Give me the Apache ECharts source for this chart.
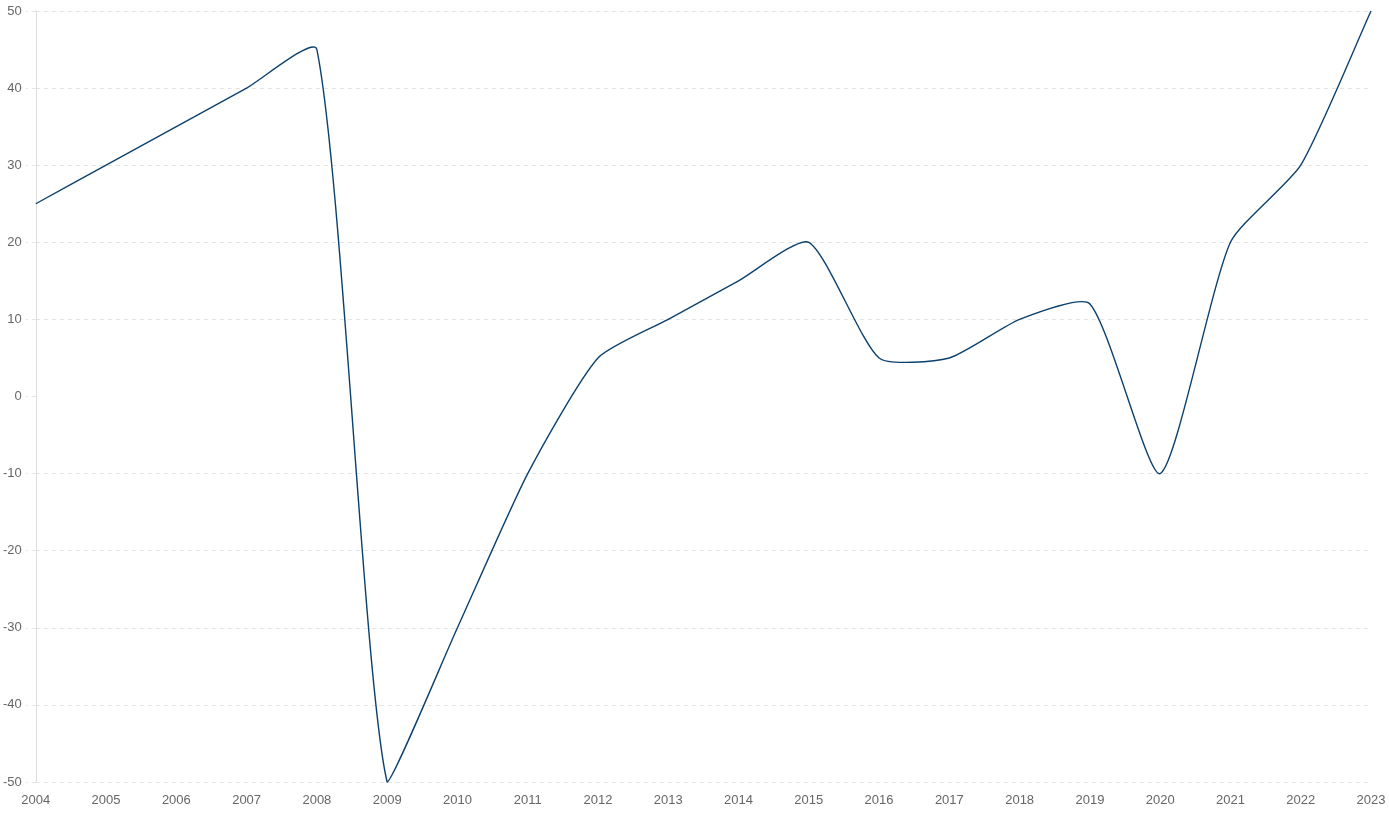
<!DOCTYPE html>
<html><head><meta charset="utf-8">
<script src="https://cdn.jsdelivr.net/npm/echarts@6/dist/echarts.min.js"></script>
<style>html,body{margin:0;padding:0;background:#fff}#c{width:1389px;height:814px}</style>
</head><body><div id="c"></div>
<script>
const years = ['2004','2005','2006','2007','2008','2009','2010','2011','2012','2013','2014','2015','2016','2017','2018','2019','2020','2021','2022','2023'];
const values = [25,30,35,40,45,-50,-30,-10,5,10,15,20,5,5,10,12,-10,20,30,50];
const yTicks = {min:-50, max:50, interval:10};

const TENSION = 0.2;
function renderLine(params, api) {
  if (params.dataIndex !== 0) return null;
  const pts = values.map((v, i) => { const c = api.coord([i, v]); return {x:c[0], y:c[1]}; });
  const area = params.coordSys;
  const minX = area.x, maxX = area.x + area.width, minY = area.y, maxY = area.y + area.height;
  const cap = (v, a, b) => Math.max(a, Math.min(b, v));
  const ctrl = pts.map((cur, i) => {
    const prev = i > 0 ? pts[i-1] : cur;
    const next = i < pts.length - 1 ? pts[i+1] : cur;
    const d01 = Math.hypot(cur.x - prev.x, cur.y - prev.y);
    const d12 = Math.hypot(next.x - cur.x, next.y - cur.y);
    let s01 = d01 / (d01 + d12), s12 = d12 / (d01 + d12);
    if (isNaN(s01)) s01 = 0; if (isNaN(s12)) s12 = 0;
    const fa = TENSION * s01, fb = TENSION * s12;
    return {
      px: cap(cur.x - fa * (next.x - prev.x), minX, maxX),
      py: cap(cur.y - fa * (next.y - prev.y), minY, maxY),
      nx: cap(cur.x + fb * (next.x - prev.x), minX, maxX),
      ny: cap(cur.y + fb * (next.y - prev.y), minY, maxY)
    };
  });
  let d = 'M' + pts[0].x + ' ' + pts[0].y;
  for (let i = 1; i < pts.length; i++) {
    d += ' C' + ctrl[i-1].nx + ' ' + ctrl[i-1].ny + ' ' + ctrl[i].px + ' ' + ctrl[i].py + ' ' + pts[i].x + ' ' + pts[i].y;
  }
  return {type:'path', shape:{pathData:d}, style:{fill:null, stroke:'#0c416e', lineWidth:1.4}, silent:true};
}

const gridColors = [];
for (let v = yTicks.min; v <= yTicks.max; v += yTicks.interval) gridColors.push(v === 0 ? 'rgba(0,0,0,0)' : '#e3e3e3');

const font = '"Liberation Sans", Arial, Helvetica, sans-serif';
const chart = echarts.init(document.getElementById('c'));
chart.setOption({
  animation:false,
  grid:{left:35,right:18,top:11,bottom:32},
  xAxis:{type:'category',data:years,boundaryGap:false,
    axisLine:{show:false},axisTick:{show:false},
    axisLabel:{color:'#666',fontSize:13,fontFamily:font,margin:12},
    splitLine:{show:false}},
  yAxis:{type:'value',min:yTicks.min,max:yTicks.max,interval:yTicks.interval,
    axisLine:{show:true,lineStyle:{color:'#dcdcdc'}},
    axisTick:{show:true,length:10,lineStyle:{color:'#e3e3e3',type:[4,4]}},
    axisLabel:{color:'#666',fontSize:13,fontFamily:font,margin:14},
    splitLine:{show:true,lineStyle:{color:gridColors,type:[4,4]}}},
  series:[{type:'custom',data:values.map((v,i)=>[i,v]),encode:{x:0,y:1},renderItem:renderLine,clip:false}]
});
</script></body></html>
